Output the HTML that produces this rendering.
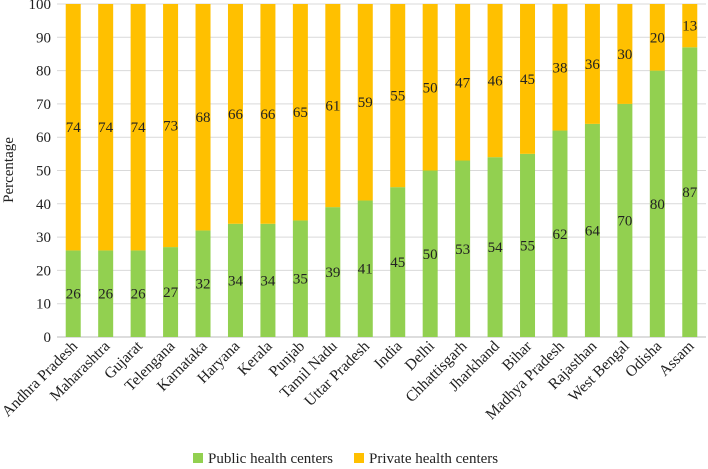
<!DOCTYPE html>
<html><head><meta charset="utf-8"><style>
body{margin:0;background:#fff}
svg, svg text{font-family:'Liberation Serif','Noto Serif CJK SC',serif;}
svg text{fill:#222}
</style></head><body>
<svg id="chart" width="708" height="464" style="font-family:'Liberation Serif','Noto Serif CJK SC',serif">
<g id="grid"></g><g id="bars"></g><g id="xlabels"></g><g id="ylabels"></g>
<text transform="translate(13,170) rotate(-90)" text-anchor="middle" font-size="15">Percentage</text>
<g>
<rect x="193" y="453" width="10" height="10" fill="#92d050"/>
<text x="208" y="463" font-size="15">Public health centers</text>
<rect x="354" y="453" width="10" height="10" fill="#ffc000"/>
<text x="369" y="463" font-size="15">Private health centers</text>
</g>
</svg>
<script>
const categories=["Andhra Pradesh","Maharashtra","Gujarat","Telengana","Karnataka","Haryana","Kerala","Punjab","Tamil Nadu","Uttar Pradesh","India","Delhi","Chhattisgarh","Jharkhand","Bihar","Madhya Pradesh","Rajasthan","West Bengal","Odisha","Assam"];
const publicVals=[26,26,26,27,32,34,34,35,39,41,45,50,53,54,55,62,64,70,80,87];
const privateVals=[74,74,74,73,68,66,66,65,61,59,55,50,47,46,45,38,36,30,20,13];
const yTicks=[0,10,20,30,40,50,60,70,80,90,100];
const NS="http://www.w3.org/2000/svg";
const x0=57,x1=706,yZero=337,yTop=4;
const n=categories.length,step=(x1-x0)/n,bw=15;
const y=v=>yZero-(v/100)*(yZero-yTop);
const xc=i=>x0+step*(i+0.5);
function mk(tag,attrs,parent){const e=document.createElementNS(NS,tag);for(const k in attrs)e.setAttribute(k,attrs[k]);document.getElementById(parent).appendChild(e);return e;}
yTicks.forEach(t=>{
 const l=mk('line',{x1:x0,x2:x1,y1:y(t),y2:y(t),stroke:t===0?'#bbb':'#d9d9d9','stroke-width':1},'grid');
 
 
 const tx=mk('text',{x:x0-6,y:y(t)+5,'text-anchor':'end','font-size':15},'ylabels');
 tx.textContent=t;
 
 
});
categories.forEach((c,i)=>{
 const cx=xc(i);
 const p=publicVals[i],q=privateVals[i];
 const r1=mk('rect',{x:cx-bw/2,y:y(p),width:bw,height:y(0)-y(p),fill:'#92d050'},'bars');
 
 
 const r2=mk('rect',{x:cx-bw/2,y:y(p+q),width:bw,height:y(p)-y(p+q),fill:'#ffc000'},'bars');
 
 
 const t1=mk('text',{x:cx,y:y(p/2)+5,'text-anchor':'middle','font-size':15},'bars');
 t1.textContent=p;
 
 
 const t2=mk('text',{x:cx,y:y(p+q/2)+5,'text-anchor':'middle','font-size':15},'bars');
 t2.textContent=q;
 
 
 const xl=mk('text',{transform:`translate(${cx+5},${yZero+10}) rotate(-45)`,'text-anchor':'end','font-size':15.5},'xlabels');
 xl.textContent=c;
 
 
});
</script>
</body></html>
